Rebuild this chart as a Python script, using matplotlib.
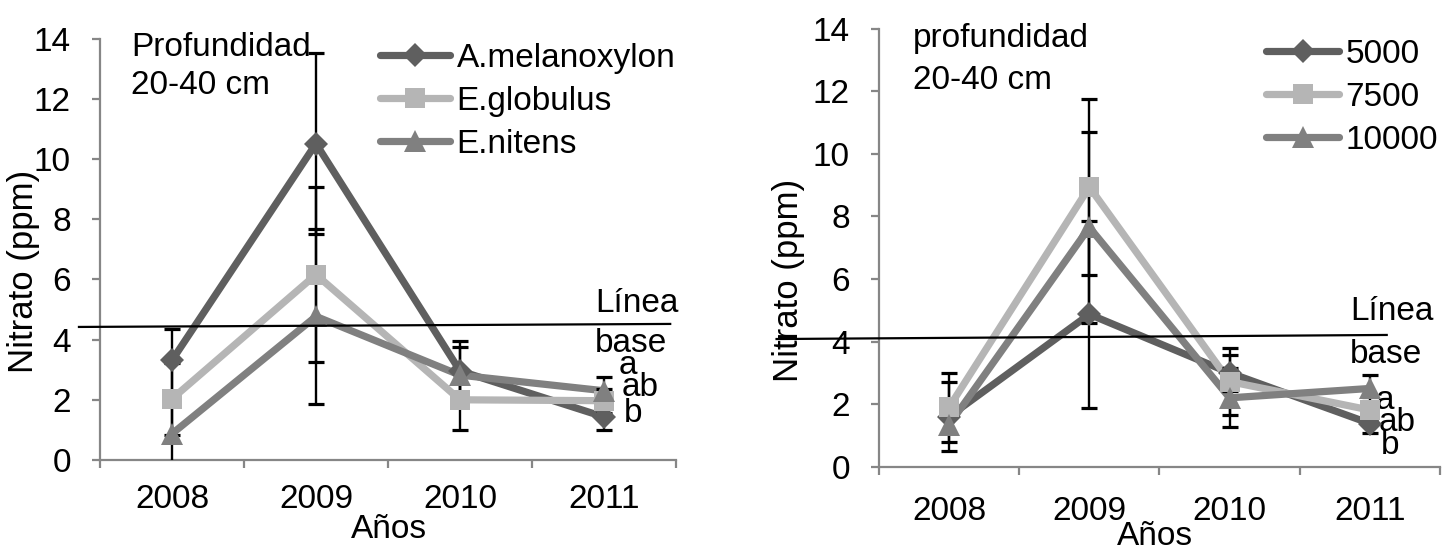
import matplotlib
matplotlib.use("Agg")
import matplotlib.pyplot as plt

# ── Data ───────────────────────────────────────────────────────────────────
YEARS = ["2008", "2009", "2010", "2011"]

# Left panel: species
SPECIES = ["A.melanoxylon", "E.globulus", "E.nitens"]
AMEL = [3.31, 10.51, 2.96, 1.43]
EGLOB = [2.03, 6.16, 2.00, 1.97]
ENIT = [0.87, 4.77, 2.82, 2.30]
AMEL_ERR = [1.05, 3.00, 1.00, 0.45]
EGLOB_ERR = [1.20, 2.90, 1.00, 0.40]
ENIT_ERR = [1.00, 2.90, 0.93, 0.45]
LEFT_BASELINE = [4.42, 4.52]
LEFT_LETTERS = ["a", "ab", "b"]

# Right panel: density
DENSITY = ["5000", "7500", "10000"]
D5000 = [1.60, 4.87, 3.00, 1.38]
D7500 = [1.90, 8.94, 2.72, 1.81]
D10000 = [1.34, 7.65, 2.20, 2.50]
D5000_ERR = [1.10, 2.98, 0.57, 0.30]
D7500_ERR = [1.10, 2.80, 1.08, 0.30]
D10000_ERR = [None, 3.05, 0.94, 0.43]
RIGHT_BASELINE = [4.08, 4.21]
RIGHT_LETTERS = ["a", "ab", "b"]

# ── Style ──────────────────────────────────────────────────────────────────
plt.rcParams["font.family"] = ["Liberation Sans", "DejaVu Sans"]
FS = 24
C_DARK = "#5f5f5f"
C_LIGHT = "#b5b5b5"
C_MID = "#808080"
C_AXIS = "#868686"
STYLES = [
    dict(color=C_DARK, marker="D", markersize=12),
    dict(color=C_LIGHT, marker="s", markersize=14.5),
    dict(color=C_MID, marker="^", markersize=16.5),
]

fig = plt.figure(figsize=(14.49, 5.48), dpi=100)
axL = fig.add_axes([0.069, 0.1606, 0.3975, 0.769])
axR = fig.add_axes([0.6066, 0.1484, 0.3872, 0.7993])


def draw_panel(ax, series, errors, xpad):
    xs = list(range(1, len(YEARS) + 1))
    handles = []
    for ys, st in zip(series, STYLES):
        # lines first, markers last so the error bars sit between them
        ax.plot(xs, ys, color=st["color"], lw=5.2, solid_capstyle="round",
                solid_joinstyle="miter", zorder=2)
    for ys, errs in zip(series, errors):
        ex = [x for x, e in zip(xs, errs) if e is not None]
        ey = [y for y, e in zip(ys, errs) if e is not None]
        ee = [e for e in errs if e is not None]
        ax.errorbar(ex, ey, yerr=ee, fmt="none", ecolor="black",
                    elinewidth=1.7, capsize=6, capthick=2.3, zorder=3)
    for k, (ys, st) in enumerate(zip(series, STYLES)):
        ax.plot(xs, ys, linestyle="none", marker=st["marker"],
                markersize=st["markersize"], color=st["color"],
                markeredgewidth=0, zorder=4 + k)
        h, = ax.plot([], [], color=st["color"], lw=5.2, marker=st["marker"],
                     markersize=st["markersize"], markeredgewidth=0,
                     solid_capstyle="round")
        handles.append(h)

    ax.set_xlim(0.5, len(YEARS) + 0.5)
    ax.set_ylim(0, 14)
    ax.set_yticks(range(0, 15, 2))
    ax.set_xticks(xs, YEARS)
    ax.set_xticks([x + 0.5 for x in range(len(YEARS) + 1)], minor=True)
    for s in ["top", "right"]:
        ax.spines[s].set_visible(False)
    for s in ["left", "bottom"]:
        ax.spines[s].set_color(C_AXIS)
        ax.spines[s].set_linewidth(1.6)
    ax.tick_params(axis="x", which="major", length=0, labelsize=FS, pad=xpad)
    ax.tick_params(axis="x", which="minor", length=6, width=1.6, color=C_AXIS,
                   direction="out")
    ax.tick_params(axis="y", length=6, width=1.6, color=C_AXIS, labelsize=FS,
                   pad=15)
    return handles


# ── Left panel ─────────────────────────────────────────────────────────────
hL = draw_panel(axL, [AMEL, EGLOB, ENIT], [AMEL_ERR, EGLOB_ERR, ENIT_ERR], 17)
axL.legend(hL, SPECIES, loc="upper left", bbox_to_anchor=(0.487, 0.99),
           frameon=False, fontsize=FS, handlelength=2.1, handletextpad=0.18,
           labelspacing=0.36, borderpad=0, borderaxespad=0)
axL.plot([0.354, 4.46], LEFT_BASELINE, color="black", lw=1.6, clip_on=False,
         zorder=6)
axL.text(0.715, 13.72, "Profundidad", fontsize=FS, va="center", ha="left")
axL.text(0.715, 12.43, "20-40 cm", fontsize=FS, va="center", ha="left")
axL.text(3.94, 5.2, "Línea", fontsize=FS, va="center", ha="left",
         clip_on=False)
axL.text(3.94, 3.88, "base", fontsize=FS, va="center", ha="left",
         clip_on=False)
for lab, xx, yy in zip(LEFT_LETTERS, [4.1, 4.12, 4.14], [3.15, 2.42, 1.54]):
    axL.text(xx, yy, lab, fontsize=FS, va="center", ha="left", clip_on=False)

# ── Right panel ────────────────────────────────────────────────────────────
hR = draw_panel(axR, [D5000, D7500, D10000],
                [D5000_ERR, D7500_ERR, D10000_ERR], 21)
axR.legend(hR, DENSITY, loc="upper left", bbox_to_anchor=(0.69, 0.977),
           frameon=False, fontsize=FS, handlelength=2.2, handletextpad=0.18,
           labelspacing=0.36, borderpad=0, borderaxespad=0)
axR.plot([-0.23, 4.12], RIGHT_BASELINE, color="black", lw=1.6, clip_on=False,
         zorder=6)
axR.text(0.74, 13.69, "profundidad", fontsize=FS, va="center", ha="left")
axR.text(0.74, 12.35, "20-40 cm", fontsize=FS, va="center", ha="left")
axR.text(3.86, 4.96, "Línea", fontsize=FS, va="center", ha="left",
         clip_on=False)
axR.text(3.86, 3.6, "base", fontsize=FS, va="center", ha="left",
         clip_on=False)
for lab, xx, yy in zip(RIGHT_LETTERS, [4.04, 4.06, 4.08], [2.1, 1.4, 0.68]):
    axR.text(xx, yy, lab, fontsize=FS, va="center", ha="left", clip_on=False)

# ── Axis titles ────────────────────────────────────────────────────────────
fig.text(0.0159, 0.505, "Nitrato (ppm)", fontsize=25, rotation=90,
         ha="center", va="center")
fig.text(0.5445, 0.489, "Nitrato (ppm)", fontsize=25, rotation=90,
         ha="center", va="center")
fig.text(0.2685, 0.018, "Años", fontsize=FS, ha="center", va="baseline")
fig.text(0.797, 0.006, "Años", fontsize=FS, ha="center", va="baseline")

fig.savefig("out.png", dpi=100, facecolor="white")
